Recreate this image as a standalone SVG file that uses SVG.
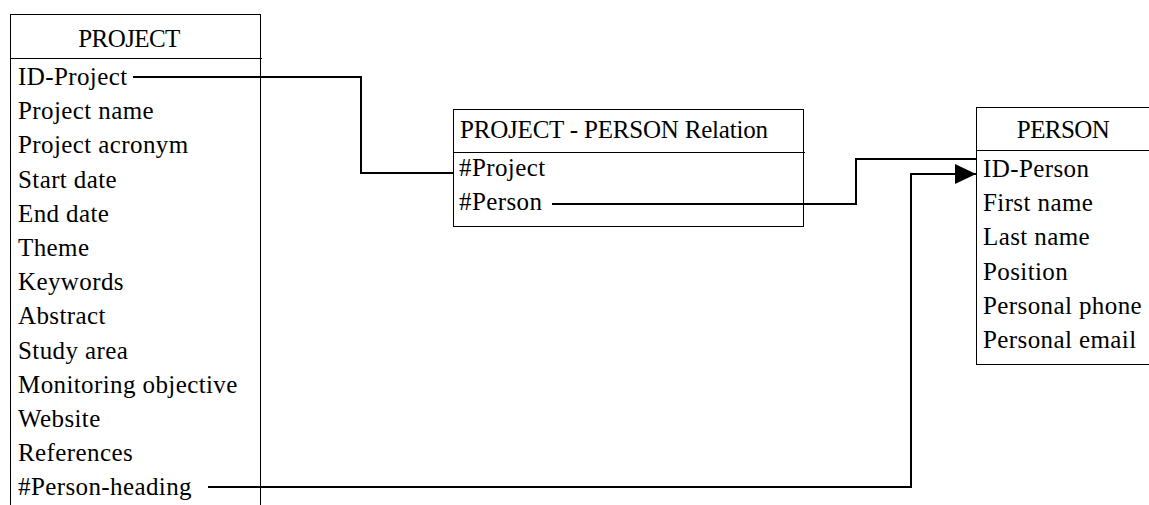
<svg xmlns="http://www.w3.org/2000/svg" width="1149" height="505" viewBox="0 0 1149 505">
<style>
.box{fill:#fff;stroke:#000;stroke-width:1}
.sep{stroke:#000;stroke-width:1}
.t{font-family:'Liberation Serif','Tinos','Times New Roman','DejaVu Serif','Noto Serif',serif;font-size:25px;fill:#000;letter-spacing:0.4px}
.h{letter-spacing:-0.6px}
.c{fill:none;stroke:#000;stroke-width:2}
</style>
<defs>
<marker id="arr" markerUnits="userSpaceOnUse" markerWidth="22" markerHeight="22" refX="21" refY="10" orient="auto">
<path d="M0,0 L21,10 L0,20 Z" fill="#000"/>
</marker>
</defs>
<rect width="1149" height="505" fill="#fff"/>
<g id="project">
<rect class="box" x="10.5" y="14.5" width="250" height="500"/>
<line class="sep" x1="10" y1="58.5" x2="262" y2="58.5"/>
<text class="t h" x="129" y="47" text-anchor="middle">PROJECT</text>
<text class="t" x="18" y="85">ID-Project</text>
<text class="t" x="18" y="119.2">Project name</text>
<text class="t" x="18" y="153.4">Project acronym</text>
<text class="t" x="18" y="187.6">Start date</text>
<text class="t" x="18" y="221.8">End date</text>
<text class="t" x="18" y="256">Theme</text>
<text class="t" x="18" y="290.2">Keywords</text>
<text class="t" x="18" y="324.4">Abstract</text>
<text class="t" x="18" y="358.6">Study area</text>
<text class="t" x="18" y="392.8">Monitoring objective</text>
<text class="t" x="18" y="427">Website</text>
<text class="t" x="18" y="461.2">References</text>
<text class="t" x="18" y="495.4">#Person-heading</text>
</g>
<g id="relation">
<rect class="box" x="453.5" y="109.5" width="350" height="117"/>
<line class="sep" x1="453" y1="152.5" x2="805" y2="152.5"/>
<text class="t h" x="460" y="138" style="letter-spacing:-0.2px">PROJECT - PERSON Relation</text>
<text class="t" x="459" y="176">#Project</text>
<text class="t" x="459" y="210">#Person</text>
</g>
<g id="person">
<rect class="box" x="976.5" y="107.5" width="200" height="257"/>
<line class="sep" x1="976" y1="150.5" x2="1149" y2="150.5"/>
<text class="t h" x="1063" y="138" text-anchor="middle">PERSON</text>
<text class="t" x="983" y="177">ID-Person</text>
<text class="t" x="983" y="211.2">First name</text>
<text class="t" x="983" y="245.4">Last name</text>
<text class="t" x="983" y="279.6">Position</text>
<text class="t" x="983" y="313.8">Personal phone</text>
<text class="t" x="983" y="348">Personal email</text>
</g>
<g id="connectors">
<path class="c" d="M133,77 H361 V173 H453"/>
<path class="c" d="M552,204 H856 V159 H976"/>
<path class="c" d="M208,487 H911 V174 H976" marker-end="url(#arr)"/>
</g>
</svg>
